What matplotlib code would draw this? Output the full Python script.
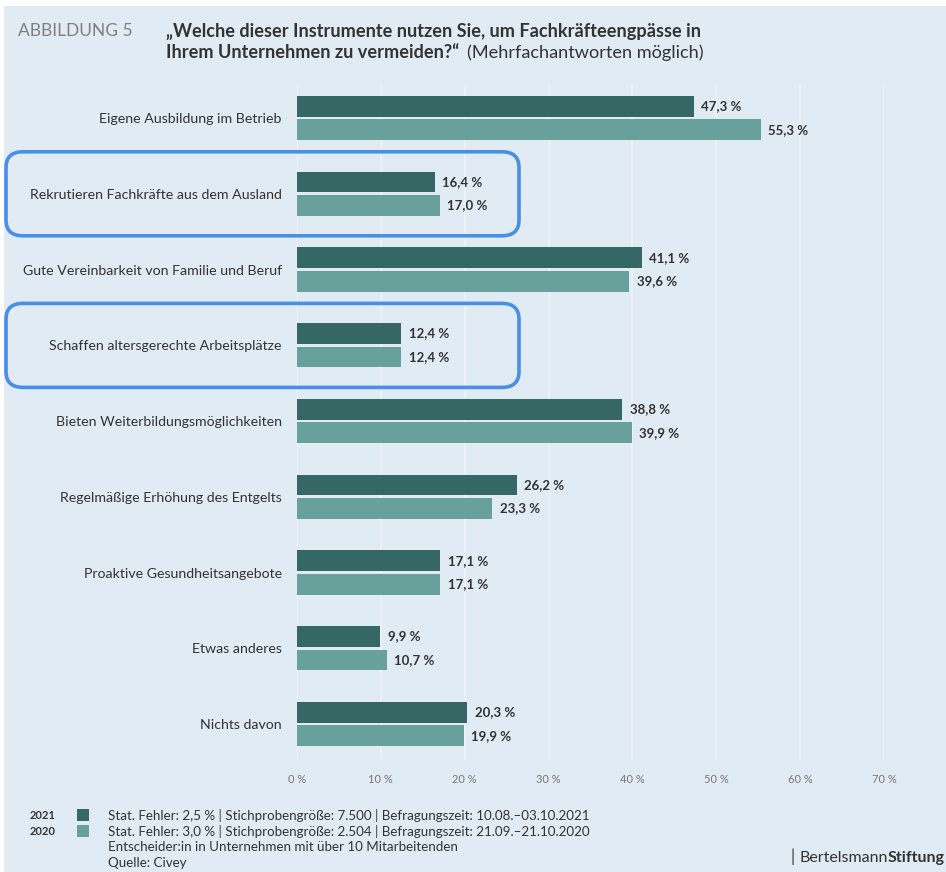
import matplotlib.pyplot as plt
from matplotlib.patches import Rectangle, FancyBboxPatch

# data
categories = [
    "Eigene Ausbildung im Betrieb",
    "Rekrutieren Fachkräfte aus dem Ausland",
    "Gute Vereinbarkeit von Familie und Beruf",
    "Schaffen altersgerechte Arbeitsplätze",
    "Bieten Weiterbildungsmöglichkeiten",
    "Regelmäßige Erhöhung des Entgelts",
    "Proaktive Gesundheitsangebote",
    "Etwas anderes",
    "Nichts davon",
]
values_2021 = [47.3, 16.4, 41.1, 12.4, 38.8, 26.2, 17.1, 9.9, 20.3]
values_2020 = [55.3, 17.0, 39.6, 12.4, 39.9, 23.3, 17.1, 10.7, 19.9]
xticks = [0, 10, 20, 30, 40, 50, 60, 70]
highlighted = [1, 3]

notes = [
    ("2021", "Stat. Fehler: 2,5 % | Stichprobengröße: 7.500 | Befragungszeit: 10.08.–03.10.2021"),
    ("2020", "Stat. Fehler: 3,0 % | Stichprobengröße: 2.504 | Befragungszeit: 21.09.–21.10.2020"),
]
extra_notes = ["Entscheider:in in Unternehmen mit über 10 Mitarbeitenden", "Quelle: Civey"]

c2021 = "#356864"
c2020 = "#68a19c"
bg = "#e1ebf3"
txt = "#333333"

plt.rcParams["font.family"] = ["Lato", "DejaVu Sans"]

W, H = 946, 872
fig = plt.figure(figsize=(W / 100, H / 100), dpi=100, facecolor="white")
# light background panel (small white margin top/left like the scan)
fig.patches.append(Rectangle((4 / W, 0), 1, 1 - 6 / H, transform=fig.transFigure,
                             facecolor=bg, edgecolor="none", zorder=-10))

def fx(px):
    return px / W

def fy(py):
    return 1 - py / H

ax = fig.add_axes([fx(297), fy(760), fx(884) - fx(297), fy(85) - fy(760)])
ax.set_facecolor("none")
ax.set_zorder(2)

ys = range(len(categories))
off = 0.155
h = 0.275
ax.barh([y - off for y in ys], values_2021, height=h, color=c2021, zorder=2)
ax.barh([y + off for y in ys], values_2020, height=h, color=c2020, zorder=2)

for y, v in zip(ys, values_2021):
    ax.text(v + 0.9, y - off, f"{v:.1f} %".replace(".", ","), va="center", ha="left",
            fontsize=9.5, fontweight="bold", color=txt)
for y, v in zip(ys, values_2020):
    ax.text(v + 0.9, y + off, f"{v:.1f} %".replace(".", ","), va="center", ha="left",
            fontsize=9.5, fontweight="bold", color=txt)

ax.set_xlim(0, 70)
ax.set_ylim(8.475, -0.436)
ax.set_yticks(list(ys))
ax.set_yticklabels(categories, fontsize=10.2, color=txt)
ax.set_xticks(xticks)
ax.set_xticklabels([f"{t} %" for t in xticks], fontsize=8, color="#777777")
ax.tick_params(axis="y", length=0, pad=11)
ax.tick_params(axis="x", length=0, pad=10)
for s in ax.spines.values():
    s.set_visible(False)
ax.grid(axis="x", color="#eef3f8", linewidth=1.2, zorder=0)

# highlight boxes
for idx in highlighted:
    cy = 118 + idx * 75.8
    box = FancyBboxPatch((fx(6), fy(cy + 42)), fx(519) - fx(6), fy(cy - 42) - fy(cy + 42),
                         boxstyle="round,pad=0,rounding_size=0.018",
                         transform=fig.transFigure, facecolor="none",
                         edgecolor="#4a8fe7", linewidth=2.6, zorder=5)
    fig.patches.append(box)

# title
fig.text(fx(18), fy(31), "ABBILDUNG 5", fontsize=12.5, color="#808080",
         va="center", ha="left")
fig.text(fx(166), fy(31), "„Welche dieser Instrumente nutzen Sie, um Fachkräfteengpässe in",
         fontsize=13.1, color=txt, fontweight="bold", va="center", ha="left")
t2 = fig.text(fx(166), fy(53), "Ihrem Unternehmen zu vermeiden?“",
              fontsize=13.1, color=txt, fontweight="bold", va="center", ha="left")
fig.canvas.draw()
bb = t2.get_window_extent()
fig.text(bb.x1 / W + fx(8), fy(53), "(Mehrfachantworten möglich)",
         fontsize=13.1, color=txt, va="center", ha="left")

# footer / legend
for i, (yr, note) in enumerate(notes):
    yy = 815 + i * 16
    fig.text(fx(30), fy(yy), yr, fontsize=8, fontweight="bold", color=txt, va="center")
    fig.patches.append(Rectangle((fx(77), fy(yy + 6)), fx(12), 12 / H,
                                 transform=fig.transFigure,
                                 facecolor=c2021 if i == 0 else c2020, edgecolor="none"))
    fig.text(fx(108), fy(yy), note, fontsize=9.6, color=txt, va="center")
for i, note in enumerate(extra_notes):
    fig.text(fx(108), fy(847 + i * 16), note, fontsize=9.6, color=txt, va="center")

fig.text(fx(790), fy(857), "|", fontsize=12, color=txt, va="center", ha="left")
b1 = fig.text(fx(799), fy(858), "Bertelsmann", fontsize=11.5, color=txt, va="center", ha="left")
fig.canvas.draw()
bb1 = b1.get_window_extent()
fig.text(bb1.x1 / W, fy(858), "Stiftung", fontsize=11.5, color=txt, fontweight="bold",
         va="center", ha="left")

fig.savefig("out.png", dpi=100, facecolor=fig.get_facecolor())
